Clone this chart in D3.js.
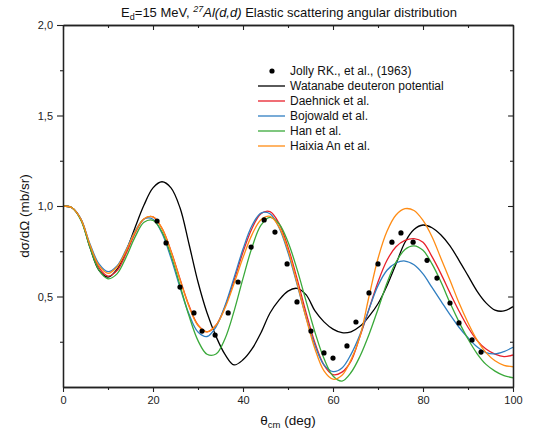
<!DOCTYPE html>
<html>
<head>
<meta charset="utf-8">
<script src="https://cdn.jsdelivr.net/npm/d3@7"></script>
<style>
  html, body { margin: 0; padding: 0; background: #fff; }
  svg { display: block; font-family: "Liberation Sans", Arial, sans-serif; }
</style>
</head>
<body>
<svg id="chart" width="533" height="441"></svg>
<script>
// Scattering angle grid (deg, c.m.) shared by all model curves
const thetaGrid = [0,2,4,6,8,10,12,14,16,18,20,22,24,26,28,30,32,34,36,38,40,42,44,46,48,50,
  52,54,56,58,60,62,64,66,68,70,72,74,76,78,80,82,84,86,88,90,92,94,96,98,100];

// Optical-model curves, dσ/dΩ (mb/sr)
const watanabe = [1.0,0.99,0.925,0.77,0.645,0.607,0.65,0.75,0.88,1.005,1.10,1.134,1.10,0.99,0.79,0.58,
  0.41,0.28,0.18,0.122,0.15,0.21,0.30,0.409,0.48,0.53,0.545,0.51,0.42,0.36,0.32,0.30,0.305,0.335,0.39,
  0.46,0.56,0.68,0.80,0.87,0.895,0.88,0.84,0.78,0.70,0.615,0.53,0.465,0.425,0.42,0.444];
const daehnick = [1.0,0.99,0.925,0.78,0.66,0.613,0.643,0.736,0.848,0.928,0.94,0.876,0.752,0.597,0.45,0.343,
  0.305,0.341,0.443,0.588,0.745,0.876,0.958,0.969,0.904,0.773,0.60,0.412,0.243,0.121,0.068,0.082,0.143,
  0.28,0.43,0.58,0.70,0.775,0.81,0.82,0.80,0.72,0.625,0.52,0.42,0.33,0.258,0.21,0.182,0.168,0.177];
const bojowald = [1.0,0.99,0.928,0.79,0.68,0.637,0.669,0.758,0.86,0.928,0.927,0.849,0.712,0.55,0.403,0.304,
  0.279,0.332,0.449,0.603,0.762,0.892,0.961,0.957,0.881,0.743,0.568,0.386,0.229,0.122,0.085,0.105,0.18,
  0.29,0.43,0.56,0.645,0.685,0.696,0.675,0.625,0.55,0.475,0.40,0.33,0.272,0.222,0.19,0.183,0.196,0.219];
const han = [1.0,0.99,0.92,0.77,0.645,0.598,0.625,0.716,0.828,0.91,0.921,0.857,0.727,0.561,0.393,0.256,
  0.181,0.182,0.267,0.418,0.60,0.771,0.894,0.937,0.902,0.801,0.651,0.476,0.302,0.157,0.061,0.033,0.08,
  0.17,0.29,0.43,0.575,0.69,0.76,0.78,0.755,0.68,0.58,0.465,0.36,0.265,0.185,0.125,0.088,0.063,0.051];
const haixia = [1.0,0.99,0.926,0.785,0.67,0.628,0.663,0.752,0.856,0.93,0.94,0.876,0.749,0.593,0.445,0.34,
  0.305,0.341,0.436,0.57,0.715,0.842,0.924,0.943,0.885,0.756,0.577,0.383,0.21,0.089,0.043,0.065,0.15,
  0.28,0.50,0.71,0.86,0.95,0.985,0.975,0.92,0.83,0.71,0.59,0.465,0.355,0.26,0.19,0.145,0.12,0.112];

// Measured angular distribution (Jolly et al., 1963)
const expTheta = [20.9,22.9,26.0,29.1,30.9,33.8,36.7,38.9,41.8,44.7,47.1,49.8,52.0,55.1,58.0,60.0,
  63.1,65.1,68.0,70.0,73.1,75.1,77.8,80.9,83.1,86.0,88.0,90.9,92.9];
const expValue = [0.917,0.796,0.552,0.409,0.309,0.287,0.409,0.58,0.773,0.923,0.856,0.68,0.47,0.309,
  0.188,0.16,0.227,0.359,0.52,0.68,0.80,0.851,0.80,0.70,0.602,0.464,0.354,0.26,0.193];

// Axis ticks
const xMajorTicks = [0,20,40,60,80,100];
const xMinorTicks = [10,30,50,70,90];
const yMajorTicks = [0.5,1.0,1.5,2.0];
const yMinorTicks = [0.25,0.75,1.25,1.75];

const seriesNames = ["Watanabe deuteron potential","Daehnick et al.","Bojowald et al.","Han et al.","Haixia An et al."];
const seriesValues = [watanabe, daehnick, bojowald, han, haixia];
const seriesColors = ["#000000","#e8202a","#2f7ec1","#3aa93a","#ff8c14"];
const expName = "Jolly RK., et al., (1963)";

const svg = d3.select("#chart");
const plotL = 63, plotR = 513, plotT = 25, plotB = 387;

const x = d3.scaleLinear().domain([0,100]).range([plotL,plotR]);
const y = d3.scaleLinear().domain([0,2]).range([plotB,plotT]);
const commaFmt = v => d3.format(".1f")(v).replace(".", ",");

// Title
const title = svg.append("text")
  .attr("x", 289).attr("y", 17)
  .attr("text-anchor", "middle")
  .attr("font-size", 13).attr("fill", "#111");
title.append("tspan").text("E");
title.append("tspan").attr("dy", 3).attr("font-size", 9).text("d");
title.append("tspan").attr("dy", -3).text("=15 MeV, ");
title.append("tspan").attr("dy", -5).attr("font-size", 9).attr("font-style", "italic").text("27");
title.append("tspan").attr("dy", 5).attr("font-style", "italic").text("Al(d,d)");
title.append("tspan").text(" Elastic scattering angular distribution");

// Clip for curves
svg.append("defs").append("clipPath").attr("id", "plotClip")
  .append("rect").attr("x", plotL).attr("y", plotT).attr("width", plotR-plotL).attr("height", plotB-plotT);

// Model curves
const line = d3.line()
  .x((d, i) => x(thetaGrid[i]))
  .y(d => y(d))
  .curve(d3.curveCatmullRom.alpha(0.5));

const curves = svg.append("g").attr("clip-path", "url(#plotClip)");
seriesValues.forEach((vals, k) => {
  curves.append("path")
    .attr("d", line(vals))
    .attr("fill", "none")
    .attr("stroke", seriesColors[k])
    .attr("stroke-width", 1.3);
});

// Experimental points
svg.append("g").selectAll("circle")
  .data(expTheta.map((t, i) => [t, expValue[i]]))
  .join("circle")
  .attr("cx", d => x(d[0])).attr("cy", d => y(d[1]))
  .attr("r", 2.6).attr("fill", "#000");

// Axes
const axisColor = "#222";
function styleAxis(g) {
  g.selectAll(".domain").attr("stroke", axisColor).attr("stroke-width", 1.3);
  g.selectAll(".tick line").attr("stroke", axisColor).attr("stroke-width", 1.1);
  g.selectAll(".tick text").attr("fill", "#222").attr("font-size", 11)
    .attr("font-family", "Liberation Sans, Arial, sans-serif");
}

// bottom
svg.append("g").attr("transform", `translate(0,${plotB})`)
  .call(d3.axisBottom(x).tickValues(xMajorTicks).tickSize(5).tickSizeOuter(0).tickPadding(4))
  .call(styleAxis);
svg.append("g").attr("transform", `translate(0,${plotB})`)
  .call(d3.axisBottom(x).tickValues(xMinorTicks).tickSize(3).tickSizeOuter(0).tickFormat(""))
  .call(styleAxis);
// top (inward ticks)
svg.append("g").attr("transform", `translate(0,${plotT})`)
  .call(d3.axisTop(x).tickValues(xMajorTicks).tickSize(-5).tickSizeOuter(0).tickFormat(""))
  .call(styleAxis);
svg.append("g").attr("transform", `translate(0,${plotT})`)
  .call(d3.axisTop(x).tickValues(xMinorTicks).tickSize(-3).tickSizeOuter(0).tickFormat(""))
  .call(styleAxis);
// left
svg.append("g").attr("transform", `translate(${plotL},0)`)
  .call(d3.axisLeft(y).tickValues(yMajorTicks).tickSize(6).tickSizeOuter(0).tickPadding(4).tickFormat(commaFmt))
  .call(styleAxis);
svg.append("g").attr("transform", `translate(${plotL},0)`)
  .call(d3.axisLeft(y).tickValues(yMinorTicks).tickSize(3).tickSizeOuter(0).tickFormat(""))
  .call(styleAxis);
// right (inward ticks)
svg.append("g").attr("transform", `translate(${plotR},0)`)
  .call(d3.axisRight(y).tickValues(yMajorTicks).tickSize(-5).tickSizeOuter(0).tickFormat(""))
  .call(styleAxis);
svg.append("g").attr("transform", `translate(${plotR},0)`)
  .call(d3.axisRight(y).tickValues(yMinorTicks).tickSize(-3).tickSizeOuter(0).tickFormat(""))
  .call(styleAxis);

// Axis titles
const xt = svg.append("text")
  .attr("x", 288).attr("y", 425)
  .attr("text-anchor", "middle").attr("font-size", 13.5).attr("fill", "#111");
xt.append("tspan").text("θ");
xt.append("tspan").attr("dy", 3).attr("font-size", 9.5).text("cm");
xt.append("tspan").attr("dy", -3).text(" (deg)");

svg.append("text")
  .attr("transform", `translate(29,216) rotate(-90)`)
  .attr("text-anchor", "middle").attr("font-size", 13.5).attr("fill", "#111")
  .text("dσ/dΩ (mb/sr)");

// Legend
const legend = svg.append("g");
const rowY = i => 71 + i * 15;
legend.append("circle").attr("cx", 272).attr("cy", rowY(0)).attr("r", 2.6).attr("fill", "#000");
legend.append("text").attr("x", 290).attr("y", rowY(0)).attr("dy", "0.35em")
  .attr("font-size", 12).attr("fill", "#111").text(expName);
seriesNames.forEach((name, k) => {
  legend.append("line")
    .attr("x1", 258).attr("x2", 285).attr("y1", rowY(k+1)).attr("y2", rowY(k+1))
    .attr("stroke", seriesColors[k]).attr("stroke-width", 1.3);
  legend.append("text").attr("x", 290).attr("y", rowY(k+1)).attr("dy", "0.35em")
    .attr("font-size", 12).attr("fill", "#111").text(name);
});
</script>
</body>
</html>
